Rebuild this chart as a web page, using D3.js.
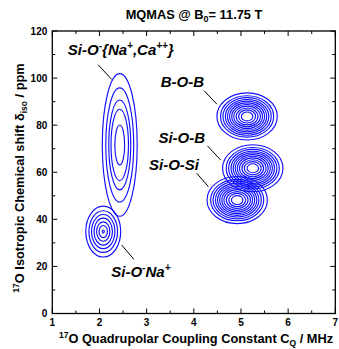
<!DOCTYPE html>
<html>
<head>
<meta charset="utf-8">
<script src="https://cdn.jsdelivr.net/npm/d3@7"></script>
<style>
  html, body { margin: 0; padding: 0; background: #fff; }
  svg text { font-family: "Liberation Sans", Arial, Helvetica, sans-serif; font-weight: bold; }
</style>
</head>
<body>
<svg id="chart" width="339" height="349"></svg>
<script>
// Peak sites: quadrupolar coupling constant (MHz) and isotropic shift (ppm)
const siteNames = ["Si-O-{Na,Ca}", "Si-O-Na", "B-O-B", "Si-O-B", "Si-O-Si"];
const siteCq    = [2.43, 2.08, 5.13, 5.25, 4.92];
const siteIso   = [71.6, 34.8, 83.7, 61.7, 48.2];
// Outer contour half-widths along each axis
const spreadCq  = [0.37, 0.37, 0.64, 0.64, 0.64];
const spreadIso = [30.3, 10.8, 10.0, 10.0, 10.0];
// Relative size of each contour ring
const ringLevels = [
  [1, 0.8, 0.63, 0.5, 0.28],
  [1, 0.82, 0.67, 0.53, 0.38, 0.24, 0.06],
  [1, 0.88, 0.8, 0.72, 0.65, 0.58, 0.51, 0.44, 0.36, 0.28, 0.19],
  [1, 0.88, 0.8, 0.72, 0.65, 0.58, 0.51, 0.44, 0.36, 0.28, 0.19],
  [1, 0.88, 0.8, 0.72, 0.65, 0.58, 0.51, 0.44, 0.36, 0.28, 0.19]
];

// Labels: position in data units (start x, baseline y)
const labelCq  = [1.33, 2.25, 3.30, 3.25, 3.05];
const labelIso = [109.8, 15.4, 96.2, 72.6, 61.0];
// Leader lines from label to contour group
const leaderFromCq  = [1.97, 2.47, 4.22, 4.29, 4.06];
const leaderFromIso = [105.7, 29.1, 94.6, 71.2, 59.6];
const leaderToCq    = [2.26, 2.73, 4.49, 4.57, 4.31];
const leaderToIso   = [99.4, 23.0, 88.9, 65.2, 53.9];

const xTicks = [1, 2, 3, 4, 5, 6, 7];
const yTicks = [0, 20, 40, 60, 80, 100, 120];
const xMinorTicks = [1.5, 2.5, 3.5, 4.5, 5.5, 6.5];
const yMinorTicks = [10, 30, 50, 70, 90, 110];

const svg = d3.select("#chart");
const plotLeft = 52.3, plotRight = 335.3, plotTop = 31, plotBottom = 313.5;

const x = d3.scaleLinear().domain([1, 7]).range([plotLeft, plotRight]);
const y = d3.scaleLinear().domain([0, 120]).range([plotBottom, plotTop]);

// Title
const title = svg.append("text")
  .attr("x", 194).attr("y", 19)
  .attr("text-anchor", "middle")
  .attr("font-size", 12.8);
title.append("tspan").text("MQMAS @ B");
title.append("tspan").attr("font-size", 9).attr("dy", 3).text("0");
title.append("tspan").attr("dy", -3).text("= 11.75 T");

// Contour rings
const rings = svg.append("g").attr("fill", "none").attr("stroke", "#1010ff").attr("stroke-width", 1.15);
siteNames.forEach((name, i) => {
  ringLevels[i].forEach(s => {
    rings.append("ellipse")
      .attr("cx", x(siteCq[i]))
      .attr("cy", y(siteIso[i]))
      .attr("rx", x(siteCq[i] + spreadCq[i] * s) - x(siteCq[i]))
      .attr("ry", y(siteIso[i]) - y(siteIso[i] + spreadIso[i] * s));
  });
});

// Leader lines
siteNames.forEach((name, i) => {
  svg.append("line")
    .attr("x1", x(leaderFromCq[i])).attr("y1", y(leaderFromIso[i]))
    .attr("x2", x(leaderToCq[i])).attr("y2", y(leaderToIso[i]))
    .attr("stroke", "#000").attr("stroke-width", 1);
});

// Site labels with charge superscripts
const labelParts = [
  [["Si-O", 0], ["-", 1], ["{Na", 0], ["+", 1], [",Ca", 0], ["++", 1], ["}", 0]],
  [["Si-O", 0], ["-", 1], ["Na", 0], ["+", 1]],
  [["B-O-B", 0]],
  [["Si-O-B", 0]],
  [["Si-O-Si", 0]]
];
labelParts.forEach((parts, i) => {
  const t = svg.append("text")
    .attr("x", x(labelCq[i])).attr("y", y(labelIso[i]))
    .attr("font-size", 15).attr("font-style", "italic");
  parts.forEach(([txt, sup]) => {
    t.append("tspan")
      .attr("font-size", sup ? 10 : 15)
      .attr("baseline-shift", sup ? "65%" : null)
      .text(txt);
  });
});

// Frame
const axes = svg.append("g").attr("stroke", "#000");
axes.append("rect")
  .attr("x", plotLeft).attr("y", plotTop)
  .attr("width", plotRight - plotLeft).attr("height", plotBottom - plotTop)
  .attr("fill", "none").attr("stroke-width", 1.3);

// Inward ticks on all four sides
const major = 5, minor = 3;
xTicks.forEach(v => {
  axes.append("line").attr("x1", x(v)).attr("x2", x(v)).attr("y1", plotBottom).attr("y2", plotBottom - major);
  axes.append("line").attr("x1", x(v)).attr("x2", x(v)).attr("y1", plotTop).attr("y2", plotTop + major);
});
xMinorTicks.forEach(v => {
  axes.append("line").attr("x1", x(v)).attr("x2", x(v)).attr("y1", plotBottom).attr("y2", plotBottom - minor);
  axes.append("line").attr("x1", x(v)).attr("x2", x(v)).attr("y1", plotTop).attr("y2", plotTop + minor);
});
yTicks.forEach(v => {
  axes.append("line").attr("y1", y(v)).attr("y2", y(v)).attr("x1", plotLeft).attr("x2", plotLeft + major);
  axes.append("line").attr("y1", y(v)).attr("y2", y(v)).attr("x1", plotRight).attr("x2", plotRight - major);
});
yMinorTicks.forEach(v => {
  axes.append("line").attr("y1", y(v)).attr("y2", y(v)).attr("x1", plotLeft).attr("x2", plotLeft + minor);
  axes.append("line").attr("y1", y(v)).attr("y2", y(v)).attr("x1", plotRight).attr("x2", plotRight - minor);
});
axes.selectAll("line").attr("stroke-width", 1);

// Tick labels
svg.append("g").selectAll("text").data(xTicks).join("text")
  .attr("x", d => x(d)).attr("y", plotBottom + 12)
  .attr("text-anchor", "middle").attr("font-size", 10)
  .text(d => d);
svg.append("g").selectAll("text").data(yTicks).join("text")
  .attr("x", plotLeft - 5).attr("y", d => y(d) + 3.5)
  .attr("text-anchor", "end").attr("font-size", 10)
  .text(d => d);

// Axis titles
const xt = svg.append("text")
  .attr("x", 196).attr("y", 343)
  .attr("text-anchor", "middle").attr("font-size", 12.8);
xt.append("tspan").attr("font-size", 8.5).attr("baseline-shift", "55%").text("17");
xt.append("tspan").text("O Quadrupolar Coupling Constant C");
xt.append("tspan").attr("font-size", 8.5).attr("baseline-shift", "-30%").text("Q");
xt.append("tspan").text(" / MHz");

const yt = svg.append("text")
  .attr("transform", "translate(24,178) rotate(-90)")
  .attr("text-anchor", "middle").attr("font-size", 12.8);
yt.append("tspan").attr("font-size", 8.5).attr("baseline-shift", "55%").text("17");
yt.append("tspan").text("O Isotropic Chemical shift δ");
yt.append("tspan").attr("font-size", 8.5).attr("baseline-shift", "-30%").text("iso");
yt.append("tspan").text(" / ppm");
</script>
</body>
</html>
